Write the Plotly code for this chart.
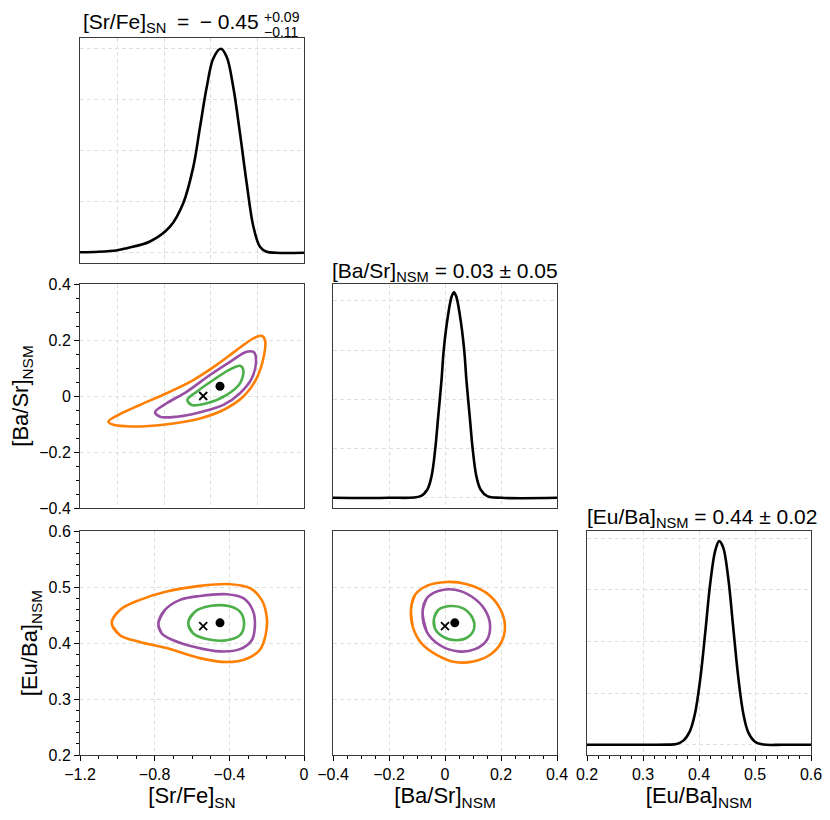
import plotly.graph_objects as go

# the page puts the plot 8px in from the top-left corner
OFF = 8
W, H = 830 - OFF, 820 - OFF

# ---- marginal curves ----
srfe_x = [-1.2, -1.1, -1.0, -0.95, -0.825, -0.718, -0.647, -0.593, -0.557, -0.521,
          -0.486, -0.446, -0.414, -0.379, -0.343, -0.307, -0.271, -0.236, -0.2, -0.15, 0.0]
srfe_y = [0.01, 0.02, 0.05, 0.09, 0.22, 0.51, 0.97, 1.68, 2.46, 3.24,
          3.80, 3.99, 3.83, 3.24, 2.34, 1.36, 0.51, 0.12, 0.02, 0.0, 0.0]

basr_x = [-0.4, -0.2, -0.087, -0.063, -0.048, -0.035, -0.024, -0.013, -0.004, 0.011, 0.024, 0.032,
          0.040, 0.053, 0.068, 0.077, 0.088, 0.099, 0.112, 0.127, 0.151, 0.2, 0.4]
basr_y = [0.0, 0.0, 0.07, 0.34, 0.88, 1.97, 3.34, 4.71, 6.07, 7.43, 8.19, 8.35,
          8.19, 7.43, 6.07, 4.71, 3.34, 1.97, 0.88, 0.34, 0.07, 0.0, 0.0]

euba_x = [0.2, 0.3, 0.345, 0.360, 0.372, 0.384, 0.393, 0.402, 0.411, 0.420, 0.429, 0.436,
          0.443, 0.452, 0.461, 0.470, 0.479, 0.488, 0.500, 0.515, 0.55, 0.6]
euba_y = [0.0, 0.0, 0.01, 0.07, 0.4, 1.35, 3.06, 6.27, 10.78, 15.6, 18.8, 19.72,
          19.14, 16.25, 11.42, 6.59, 3.06, 1.2, 0.3, 0.02, 0.0, 0.0]

# ---- 2D contours: outer (orange), middle (purple), inner (green) ----
# [Sr/Fe] vs [Ba/Sr]
a_out_x = [-1.048, -0.986, -0.879, -0.736, -0.593, -0.468, -0.361, -0.271, -0.227, -0.209,
           -0.214, -0.254, -0.325, -0.432, -0.557, -0.70, -0.85, -0.95, -1.02]
a_out_y = [-0.092, -0.065, -0.032, 0.010, 0.057, 0.111, 0.164, 0.206, 0.215, 0.200,
           0.146, 0.063, -0.002, -0.050, -0.080, -0.098, -0.108, -0.108, -0.103]
a_mid_x = [-0.798, -0.736, -0.629, -0.504, -0.396, -0.307, -0.268, -0.257, -0.280, -0.343,
           -0.432, -0.557, -0.682, -0.771]
a_mid_y = [-0.058, -0.026, 0.015, 0.075, 0.122, 0.158, 0.156, 0.122, 0.063, 0.010,
           -0.032, -0.058, -0.074, -0.074]
a_in_x = [-0.625, -0.575, -0.486, -0.396, -0.343, -0.325, -0.343, -0.414, -0.521, -0.602]
a_in_y = [-0.014, 0.015, 0.057, 0.095, 0.108, 0.093, 0.045, 0.004, -0.026, -0.032]

# [Sr/Fe] vs [Eu/Ba]
b_out_x = [-1.030, -0.986, -0.879, -0.736, -0.557, -0.396, -0.289, -0.227, -0.200, -0.204,
           -0.236, -0.307, -0.414, -0.557, -0.736, -0.879, -0.986]
b_out_y = [0.436, 0.459, 0.477, 0.492, 0.502, 0.505, 0.498, 0.477, 0.447, 0.417,
           0.388, 0.372, 0.366, 0.373, 0.391, 0.402, 0.414]
b_mid_x = [-0.780, -0.745, -0.664, -0.557, -0.414, -0.325, -0.275, -0.263, -0.280, -0.343,
           -0.450, -0.575, -0.700, -0.762]
b_mid_y = [0.435, 0.459, 0.477, 0.484, 0.487, 0.480, 0.459, 0.432, 0.405, 0.389,
           0.385, 0.392, 0.405, 0.417]
b_in_x = [-0.620, -0.584, -0.504, -0.405, -0.343, -0.321, -0.343, -0.414, -0.521, -0.593]
b_in_y = [0.436, 0.456, 0.466, 0.466, 0.456, 0.435, 0.414, 0.405, 0.407, 0.417]

# [Ba/Sr] vs [Eu/Ba]
c_out_x = [-0.121, -0.107, -0.065, 0.006, 0.078, 0.149, 0.196, 0.214, 0.202, 0.161,
           0.101, 0.036, -0.030, -0.083, -0.115]
c_out_y = [0.462, 0.486, 0.502, 0.509, 0.505, 0.489, 0.462, 0.432, 0.402, 0.379,
           0.367, 0.366, 0.379, 0.399, 0.429]
c_mid_x = [-0.080, -0.065, -0.024, 0.036, 0.095, 0.143, 0.161, 0.149, 0.107, 0.048, -0.018, -0.065]
c_mid_y = [0.456, 0.480, 0.493, 0.495, 0.483, 0.459, 0.432, 0.405, 0.389, 0.385, 0.396, 0.420]
c_in_x = [-0.039, -0.024, 0.018, 0.065, 0.099, 0.104, 0.083, 0.042, -0.006, -0.036]
c_in_y = [0.444, 0.459, 0.466, 0.462, 0.444, 0.426, 0.411, 0.405, 0.411, 0.426]

# best fit (dot) and input (cross)
best = {"srfe": -0.45, "basr": 0.035, "euba": 0.436}
truth = {"srfe": -0.54, "basr": 0.0, "euba": 0.43}

ORANGE, PURPLE, GREEN = "#ff7f00", "#984ea3", "#4daf4a"
FRAME = "#3a3a3a"
GRID = "#dedede"
FONT = "Liberation Sans, Arial, Helvetica, sans-serif"

fig = go.Figure()


def closed(xs, ys):
    # wrap around so the spline closes smoothly
    return [xs[-1]] + xs + xs[:2], [ys[-1]] + ys + ys[:2]


def add_curve(xs, ys, ax, color="black"):
    fig.add_trace(go.Scatter(x=xs, y=ys, xaxis="x" + ax, yaxis="y" + ax, mode="lines",
                             line=dict(color=color, width=2.6, shape="spline", smoothing=1.0),
                             showlegend=False, hoverinfo="skip"))


def add_contours(sets, ax):
    for (xs, ys), col in zip(sets, [ORANGE, PURPLE, GREEN]):
        cx, cy = closed(xs, ys)
        add_curve(cx, cy, ax, col)


def add_points(bx, by, tx, ty, ax):
    fig.add_trace(go.Scatter(x=[tx], y=[ty], xaxis="x" + ax, yaxis="y" + ax, mode="markers",
                             marker=dict(symbol="x-thin", size=8, line=dict(width=1.8, color="black")),
                             showlegend=False))
    fig.add_trace(go.Scatter(x=[bx], y=[by], xaxis="x" + ax, yaxis="y" + ax, mode="markers",
                             marker=dict(symbol="circle", size=9, color="black"),
                             showlegend=False))


add_curve(srfe_x, srfe_y, "")
add_contours([(a_out_x, a_out_y), (a_mid_x, a_mid_y), (a_in_x, a_in_y)], "2")
add_points(best["srfe"], best["basr"], truth["srfe"], truth["basr"], "2")
add_contours([(b_out_x, b_out_y), (b_mid_x, b_mid_y), (b_in_x, b_in_y)], "3")
add_points(best["srfe"], best["euba"], truth["srfe"], truth["euba"], "3")
add_curve(basr_x, basr_y, "4")
add_contours([(c_out_x, c_out_y), (c_mid_x, c_mid_y), (c_in_x, c_in_y)], "5")
add_points(best["basr"], best["euba"], truth["basr"], truth["euba"], "5")
add_curve(euba_x, euba_y, "6")


def px(x):
    return (x - OFF) / W


def py(y):
    return 1 - (y - OFF) / H


col1 = [px(80), px(304)]
col2 = [px(333), px(557)]
col3 = [px(587), px(811)]
row1 = [py(263), py(38)]
row2 = [py(508), py(284)]
row3 = [py(755), py(531)]

srfe_ticks = [-1.2, -0.8, -0.4, 0]
srfe_text = ["\u22121.2", "\u22120.8", "\u22120.4", "0"]
basr_ticks = [-0.4, -0.2, 0, 0.2, 0.4]
basr_text = ["\u22120.4", "\u22120.2", "0", "0.2", "0.4"]
euba_ticks = [0.2, 0.3, 0.4, 0.5, 0.6]
euba_text = ["0.2", "0.3", "0.4", "0.5", "0.6"]


def axis(domain, rng, anchor, grid=None, ticks=None, text=None, minor=None, title=None):
    d = dict(domain=domain, range=rng, anchor=anchor, showline=True, mirror=True,
             linecolor=FRAME, linewidth=1, showgrid=True, gridcolor=GRID, gridwidth=1,
             griddash="4px,3px", zeroline=False, fixedrange=True, automargin=False,
             tickfont=dict(size=16, color="black", family=FONT))
    if ticks is None:
        d.update(tickmode="array", tickvals=grid, showticklabels=False, ticks="")
    else:
        d.update(tickmode="array", tickvals=ticks, ticktext=text, ticks="outside", ticklen=5,
                 tickwidth=1, tickcolor="black",
                 minor=dict(dtick=minor, tick0=0, ticks="outside", ticklen=3, tickwidth=1,
                            tickcolor="black", showgrid=False))
    if title:
        d["title"] = dict(text=title, font=dict(size=22, color="black", family=FONT), standoff=4)
    return d


fig.update_layout(
    width=W, height=H,
    margin=dict(l=0, r=0, t=0, b=0, autoexpand=False),
    paper_bgcolor="white", plot_bgcolor="white",
    font=dict(family=FONT, color="black"),
    xaxis=axis(col1, [-1.2, 0], "y", grid=[-1.0, -0.75, -0.5, -0.25]),
    yaxis=axis(row1, [-0.2, 4.2], "x", grid=[0, 1, 2, 3, 4]),
    xaxis2=axis(col1, [-1.2, 0], "y2", grid=[-1.0, -0.75, -0.5, -0.25]),
    yaxis2=axis(row2, [-0.4, 0.4], "x2", ticks=basr_ticks, text=basr_text, minor=0.05,
                title="[Ba/Sr]<sub>NSM</sub>"),
    xaxis3=axis(col1, [-1.2, 0], "y3", ticks=srfe_ticks, text=srfe_text, minor=0.1,
                title="[Sr/Fe]<sub>SN</sub>"),
    yaxis3=axis(row3, [0.2, 0.6], "x3", ticks=euba_ticks, text=euba_text, minor=0.02,
                title="[Eu/Ba]<sub>NSM</sub>"),
    xaxis4=axis(col2, [-0.4, 0.4], "y4", grid=[-0.2, 0, 0.2]),
    yaxis4=axis(row2, [-0.414, 8.69], "x4", grid=[0, 2, 4, 6, 8]),
    xaxis5=axis(col2, [-0.4, 0.4], "y5", ticks=basr_ticks, text=basr_text, minor=0.05,
                title="[Ba/Sr]<sub>NSM</sub>"),
    yaxis5=axis(row3, [0.2, 0.6], "x5", grid=[0.3, 0.4, 0.5]),
    xaxis6=axis(col3, [0.2, 0.6], "y6", ticks=euba_ticks, text=euba_text, minor=0.02,
                title="[Eu/Ba]<sub>NSM</sub>"),
    yaxis6=axis(row3, [-0.99, 20.7], "x6", grid=[0, 5, 10, 15, 20]),
)


def label(text, x, y, size=21, xanchor="center"):
    fig.add_annotation(text=text, x=px(x), y=py(y), xref="paper", yref="paper",
                       xanchor=xanchor, yanchor="middle", showarrow=False,
                       font=dict(size=size, color="black", family=FONT))


label("[Sr/Fe]<sub>SN</sub>\u2002=\u2002\u2212 0.45", 261, 23, xanchor="right")
label("+0.09", 262, 17, size=14, xanchor="left")
label("\u22120.11", 262, 32, size=14, xanchor="left")
label("[Ba/Sr]<sub>NSM</sub> = 0.03 \u00b1 0.05", 445, 272)
label("[Eu/Ba]<sub>NSM</sub> = 0.44 \u00b1 0.02", 702, 518)

fig.write_html("out.html")
